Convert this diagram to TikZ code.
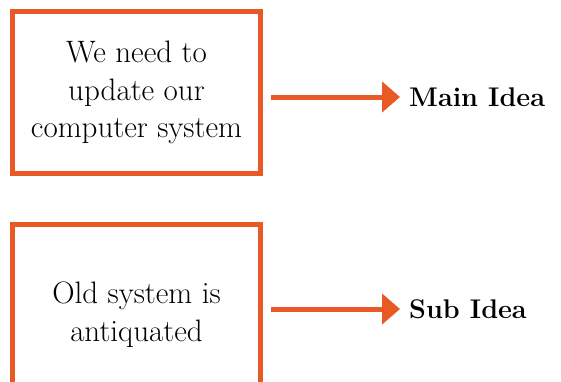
\documentclass[tikz,border=0pt]{standalone}
\usetikzlibrary{positioning,arrows.meta}

\begin{document}
\begin{tikzpicture}[x=1pt,y=-1pt]
\def\W{248pt}
\def\G{146pt}
\definecolor{idea orange}{RGB}{233,89,38}
\tikzset{
  every node/.style={font=\fontsize{31}{37.5}\selectfont},
  box/.style={idea orange,line width=5pt,draw,text=black,align=center,
    minimum width=\W},
  idea/.style={inner sep=0pt,anchor=west,font=\fontsize{27}{32}\selectfont\bfseries},
  link/.style={-{Triangle[length=18pt,width=30pt]},idea orange,line width=5pt,
    shorten <=8pt,shorten >=9pt}
}
\clip (0,0) rectangle (561,381);

%BOXES
\node[box,minimum height=162pt] (BOX1) at (136.5,92.5)
  {We need to\\update our\\computer system};
\node[box,minimum height=180pt] (BOX2) [below=46pt of BOX1]
  {Old system is\\antiquated};

%LABELS
\node[idea] (MAIN) [right=\G of BOX1,yshift=-4.5pt] {Main Idea};
\node[idea] (SUB) [right=\G of BOX2,yshift=5.5pt] {Sub Idea};

%ARROWS
\draw[link] (BOX1.east |- MAIN.west) -- (MAIN.west);
\draw[link] (BOX2.east |- SUB.west) -- (SUB.west);

\end{tikzpicture}
\end{document}
